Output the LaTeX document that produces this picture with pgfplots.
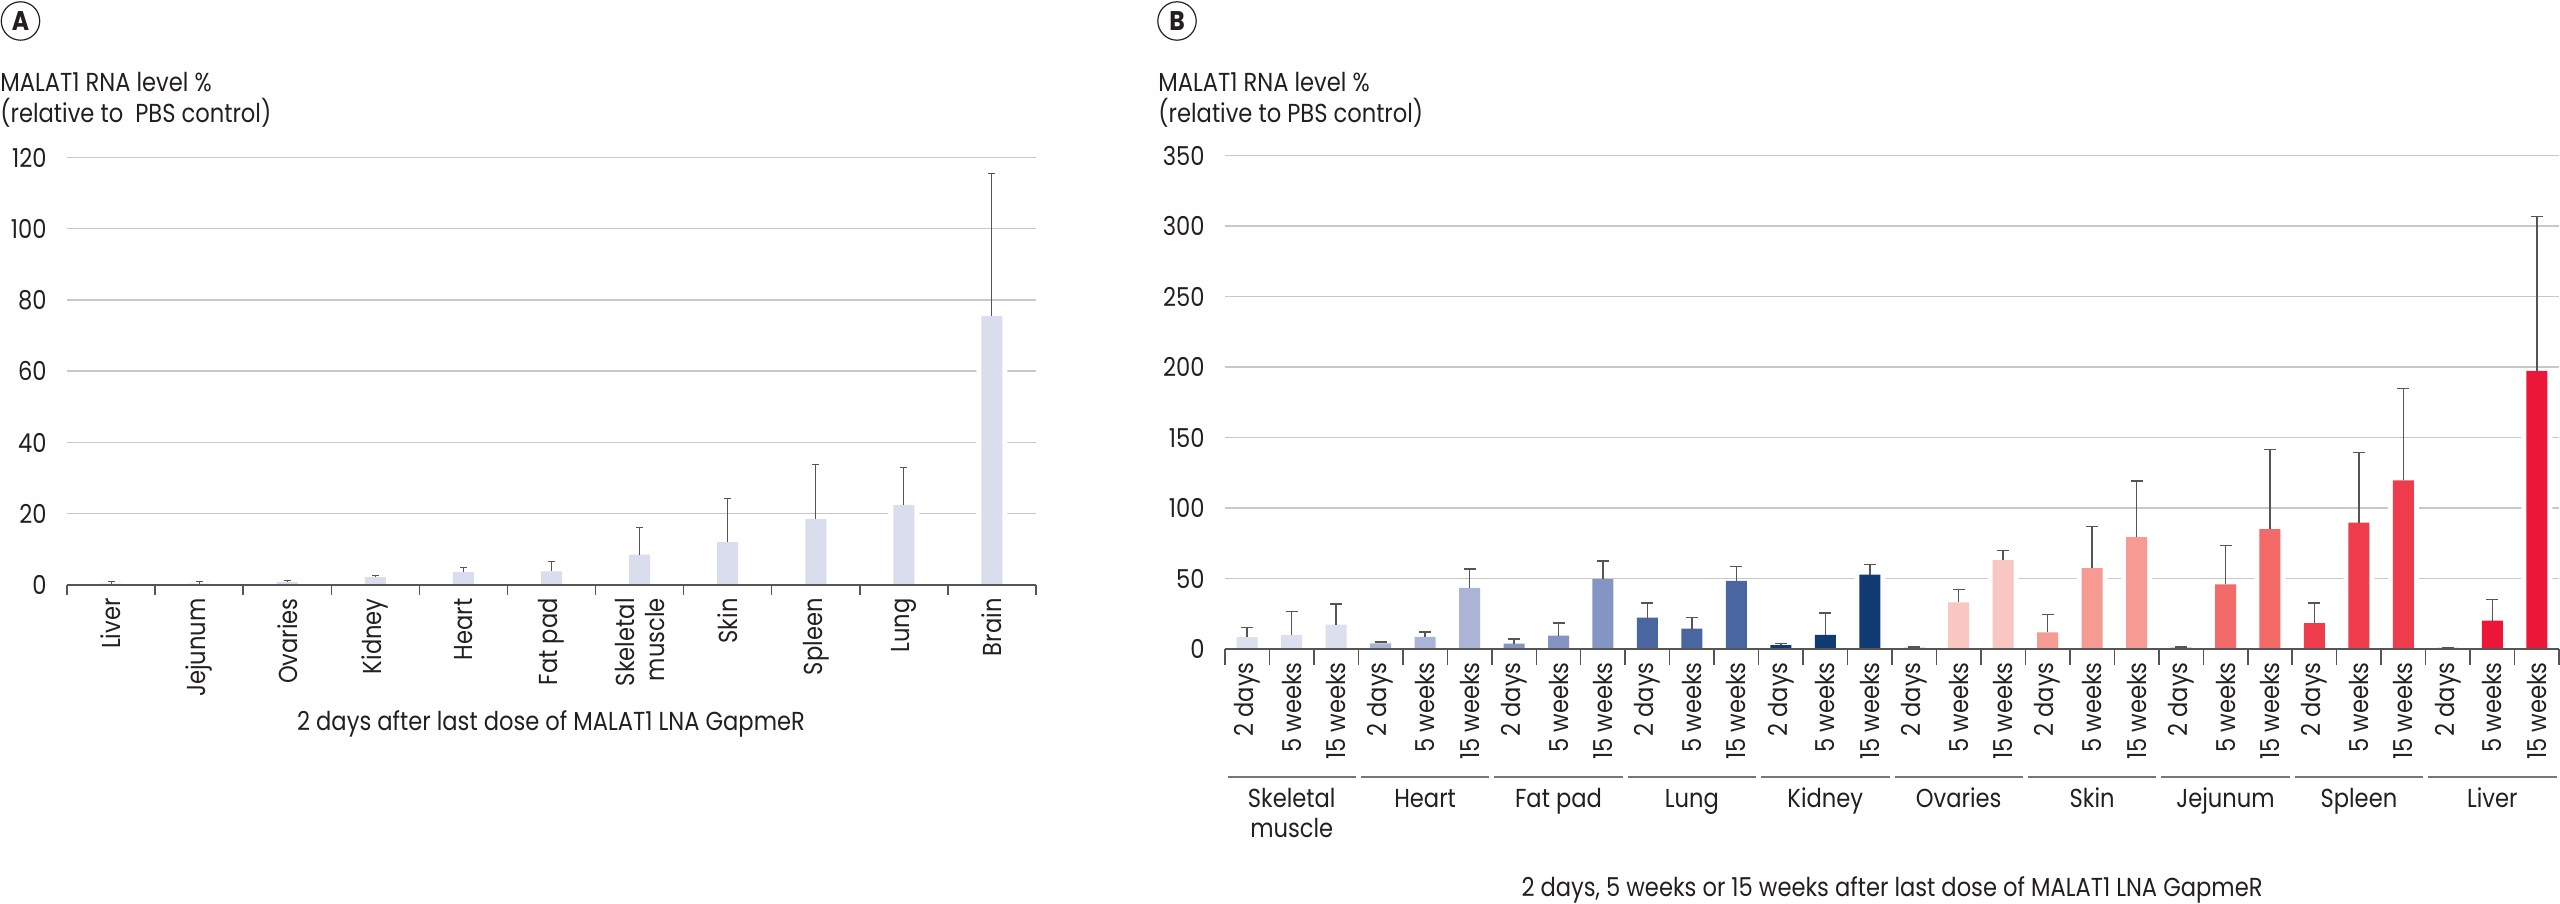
\documentclass[border=0pt]{standalone}
\usepackage{fontspec}
\setmainfont{Poppins}[FakeStretch=0.87]
\usepackage{pgfplots}
\pgfplotsset{compat=1.18}

\definecolor{gridc}{HTML}{C8C8C8}
\definecolor{axc}{HTML}{555555}
\definecolor{errc}{HTML}{555555}
\definecolor{txt}{HTML}{231F20}
\definecolor{barA}{HTML}{DADDED}
\definecolor{cSkel}{HTML}{DCDFEE}
\definecolor{cHeart}{HTML}{ABB4D5}
\definecolor{cFat}{HTML}{8494C3}
\definecolor{cLung}{HTML}{4A66A0}
\definecolor{cKid}{HTML}{133B73}
\definecolor{cOva}{HTML}{F8C7C2}
\definecolor{cSkin}{HTML}{F69B94}
\definecolor{cJej}{HTML}{F26B69}
\definecolor{cSpl}{HTML}{EF3C4C}
\definecolor{cLiv}{HTML}{EB1638}

\pgfplotsset{
  common/.style={
    scale only axis,
    axis lines*=left,
    axis line style={-, draw=none},
    enlargelimits=false,
    ymin=0,
    ymajorgrids,
    grid style={gridc, line width=0.75pt},
    major tick length=0pt,
    tick align=outside,
    minor tick style={axc, line width=0.75pt},
    tick label style={font=\fontsize{13pt}{15pt}\selectfont, text=txt},
    /pgf/number format/assume math mode=true,
    yticklabel style={anchor=east, inner sep=0pt},
    yticklabel shift=10pt,
    xticklabel style={rotate=90, anchor=east, inner sep=0pt, align=right},
    clip=false,
  },
  errA/.style={
    /pgfplots/error bars/y dir=plus,
    /pgfplots/error bars/y explicit,
    /pgfplots/error bars/error bar style={errc, line width=0.5pt},
    /pgfplots/error bars/error mark options={errc, line width=0.5pt, mark size=1.75pt, rotate=90},
  },
  errB/.style={
    /pgfplots/error bars/y dir=plus,
    /pgfplots/error bars/y explicit,
    /pgfplots/error bars/error bar style={errc, line width=0.75pt},
    /pgfplots/error bars/error mark options={errc, line width=0.75pt, mark size=3pt, rotate=90},
  },
  barB/.style={ybar, bar width=10.5pt, bar shift=0pt, draw=none, fill=#1, errB},
}

\begin{document}
\fontsize{13pt}{15.5pt}\selectfont
\begin{tikzpicture}[every node/.style={text=txt}]
\useasboundingbox (0,0) rectangle (1280pt,452pt);

% ---------------- Panel A ----------------
\begin{axis}[common,
  at={(33.5pt,159.5pt)}, anchor=south west,
  width=484.5pt, height=213.75pt,
  xmin=-0.5, xmax=10.5, ymax=120,
  ytick={0,20,...,120},
  xtick={0,...,10},
  minor xtick={-0.5,0.5,...,10.5},
  minor tick length=5pt,
  xticklabel shift=6.5pt,
  xticklabels={Liver,Jejunum,Ovaries,Kidney,Heart,Fat pad,{Skeletal\\muscle},Skin,Spleen,Lung,Brain},
]
\addplot[ybar, bar width=15.5pt, bar shift=0pt, draw=none, fill=white] coordinates {
 (0,0.4) (1,0.4) (2,0.9) (3,2.2) (4,3.6) (5,3.8) (6,8.5) (7,12) (8,18.5) (9,22.5) (10,75.5)};
\addplot[ybar, bar width=10.5pt, bar shift=0pt, draw=none, fill=barA, errA] coordinates {
 (0,0.4) +- (0,0.5)
 (1,0.4) +- (0,0.5)
 (2,0.9) +- (0,0.5)
 (3,2.2) +- (0,0.5)
 (4,3.6) +- (0,1.2)
 (5,3.8) +- (0,2.8)
 (6,8.5) +- (0,7.5)
 (7,12) +- (0,12.4)
 (8,18.5) +- (0,15.3)
 (9,22.5) +- (0,10.4)
 (10,75.5) +- (0,39.9)};
\draw[axc, line width=0.75pt] (rel axis cs:0,0) -- (rel axis cs:1,0);
\end{axis}

% ---------------- Panel B ----------------
\begin{axis}[common,
  at={(612.5pt,127.5pt)}, anchor=south west,
  width=667pt, height=246.65pt,
  xmin=-0.5, xmax=29.5, ymax=350,
  ytick={0,50,...,350},
  xtick={0,...,29},
  minor xtick={-0.5,0.5,...,29.5},
  minor tick length=8pt,
  xticklabel shift=6.5pt,
  xticklabels={2 days,5 weeks,15 weeks,2 days,5 weeks,15 weeks,2 days,5 weeks,15 weeks,2 days,5 weeks,15 weeks,2 days,5 weeks,15 weeks,2 days,5 weeks,15 weeks,2 days,5 weeks,15 weeks,2 days,5 weeks,15 weeks,2 days,5 weeks,15 weeks,2 days,5 weeks,15 weeks},
]
\addplot[ybar, bar width=15.5pt, bar shift=0pt, draw=none, fill=white] coordinates {
 (0,8.5) (1,10) (2,17.3) (3,4) (4,8.6) (5,43.4) (6,3.8) (7,9.5) (8,49.5)
 (9,22.2) (10,14.5) (11,48.3) (12,2.8) (13,10) (14,52.8) (15,1.2) (16,33) (17,63.1)
 (18,11.8) (19,57.3) (20,79.3) (21,1.0) (22,45.9) (23,85) (24,18.3) (25,89.7) (26,119.6)
 (27,0.8) (28,20.2) (29,197.4)};
% Skeletal muscle
\addplot[barB=cSkel] coordinates {(0,8.5) +- (0,6.8) (1,10) +- (0,16.7) (2,17.3) +- (0,14.5)};
% Heart
\addplot[barB=cHeart] coordinates {(3,4) +- (0,1) (4,8.6) +- (0,3.4) (5,43.4) +- (0,13.2)};
% Fat pad
\addplot[barB=cFat] coordinates {(6,3.8) +- (0,3.2) (7,9.5) +- (0,8.9) (8,49.5) +- (0,13)};
% Lung
\addplot[barB=cLung] coordinates {(9,22.2) +- (0,10.4) (10,14.5) +- (0,8) (11,48.3) +- (0,10.4)};
% Kidney
\addplot[barB=cKid] coordinates {(12,2.8) +- (0,1.1) (13,10) +- (0,15.7) (14,52.8) +- (0,7.1)};
% Ovaries
\addplot[barB=cOva] coordinates {(15,1.2) +- (0,0.3) (16,33) +- (0,9.1) (17,63.1) +- (0,6.9)};
% Skin
\addplot[barB=cSkin] coordinates {(18,11.8) +- (0,12.6) (19,57.3) +- (0,29.7) (20,79.3) +- (0,39.8)};
% Jejunum
\addplot[barB=cJej] coordinates {(21,1.0) +- (0,0.4) (22,45.9) +- (0,27.6) (23,85) +- (0,56.5)};
% Spleen
\addplot[barB=cSpl] coordinates {(24,18.3) +- (0,14.4) (25,89.7) +- (0,49.6) (26,119.6) +- (0,65.1)};
% Liver
\addplot[barB=cLiv] coordinates {(27,0.8) +- (0,0.4) (28,20.2) +- (0,15) (29,197.4) +- (0,109.3)};
\draw[axc, line width=0.75pt] (rel axis cs:0,0) -- (rel axis cs:1,0);
\end{axis}

% ---------------- Texts ----------------
\draw[txt, line width=0.6pt] (10.25pt,441.5pt) circle (9.6pt);
\node[inner sep=0, font=\bfseries\fontsize{13.5pt}{15pt}\selectfont] at (10.25pt,441.5pt) {A};
\draw[txt, line width=0.6pt] (588.5pt,441.5pt) circle (9.6pt);
\node[inner sep=0, font=\bfseries\fontsize{13.5pt}{15pt}\selectfont] at (588.5pt,441.5pt) {B};

\node[anchor=base west, inner sep=0] at (0pt,406pt) {MALAT1 RNA level \%};
\node[anchor=base west, inner sep=0] at (0pt,390.5pt) {(relative to\ \ PBS control)};
\node[anchor=base west, inner sep=0] at (579pt,406pt) {MALAT1 RNA level \%};
\node[anchor=base west, inner sep=0] at (579pt,390.5pt) {(relative to PBS control)};

\node[anchor=base, inner sep=0] at (275.5pt,86.5pt) {2 days after last dose of MALAT1 LNA GapmeR};

\foreach \g/\name in {0/Skeletal,1/Heart,2/Fat pad,3/Lung,4/Kidney,5/Ovaries,6/Skin,7/Jejunum,8/Spleen,9/Liver}{
  \draw[axc!80, line width=1pt] ({612.5pt+66.7pt*\g+1.25pt},63.5pt) -- ({612.5pt+66.7pt*\g+65.45pt},63.5pt);
  \node[anchor=base, inner sep=0] at ({612.5pt+66.7pt*\g+33.35pt},48pt) {\name};
}
\node[anchor=base, inner sep=0] at (645.85pt,33pt) {muscle};

\node[anchor=base, inner sep=0] at (946pt,3.5pt) {2 days, 5 weeks or 15 weeks after last dose of MALAT1 LNA GapmeR};
\end{tikzpicture}
\end{document}
